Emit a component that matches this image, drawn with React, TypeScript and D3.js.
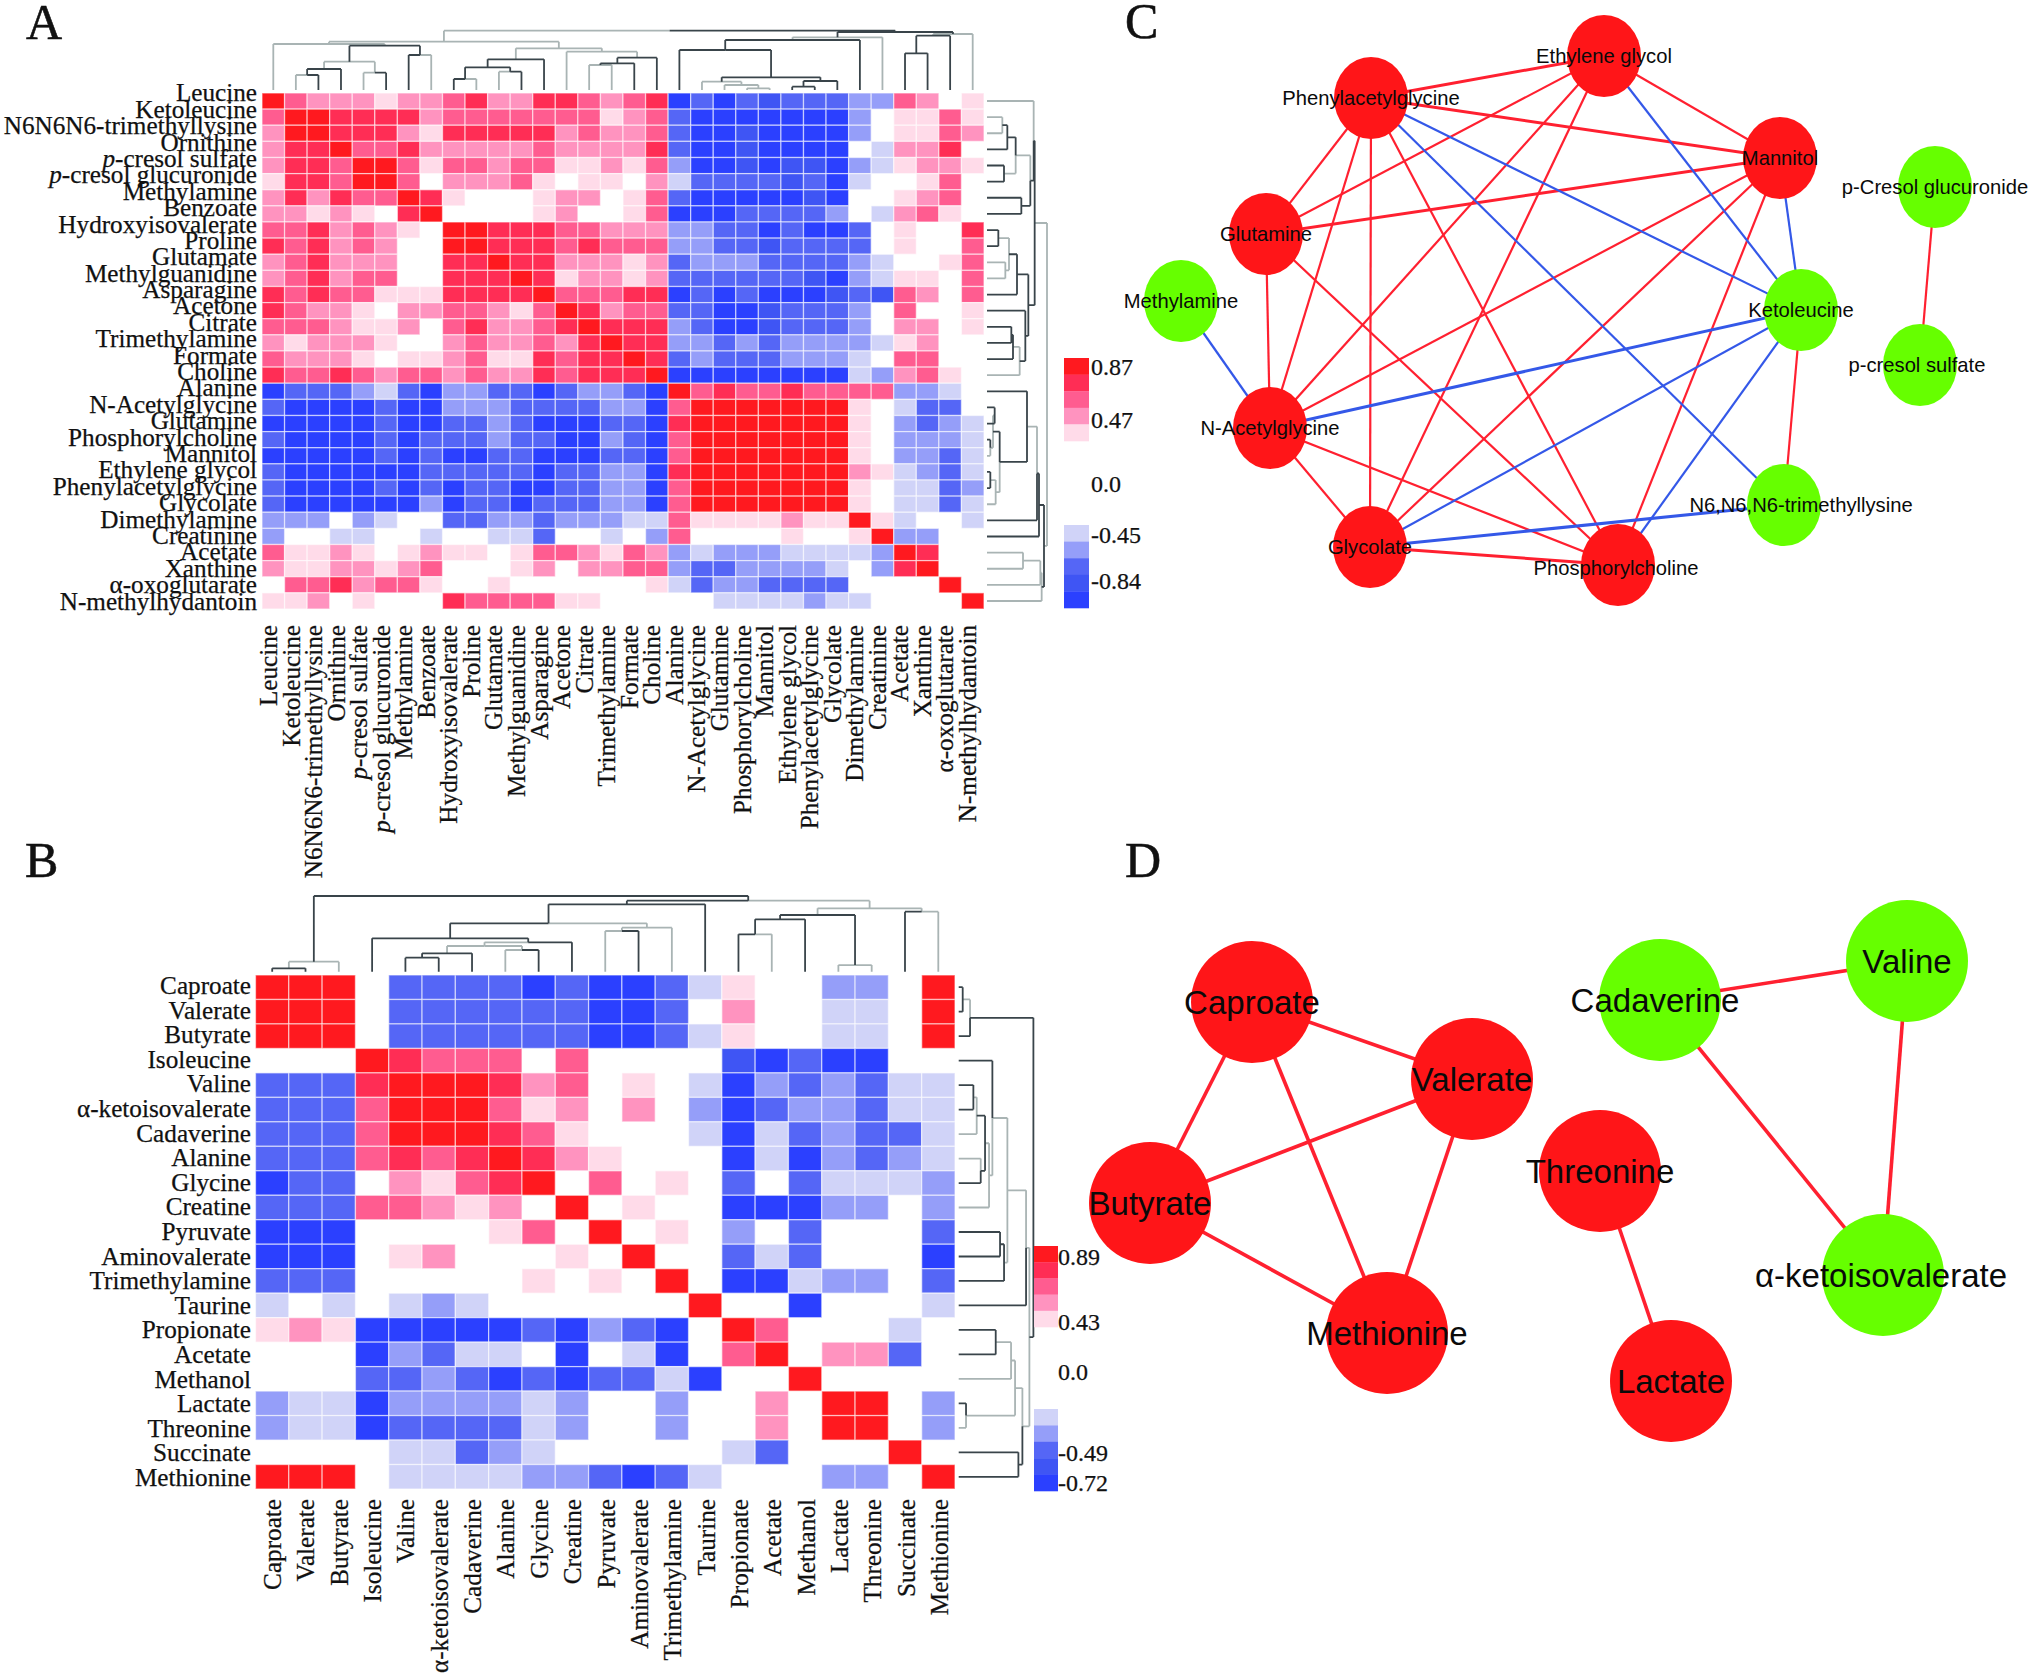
import React from "react";
import * as d3 from "d3";

const metabolitesA = ["Leucine","Ketoleucine","N6N6N6-trimethyllysine","Ornithine","p-cresol sulfate","p-cresol glucuronide","Methylamine","Benzoate","Hydroxyisovalerate","Proline","Glutamate","Methylguanidine","Asparagine","Acetone","Citrate","Trimethylamine","Formate","Choline","Alanine","N-Acetylglycine","Glutamine","Phosphorylcholine","Mannitol","Ethylene glycol","Phenylacetylglycine","Glycolate","Dimethylamine","Creatinine","Acetate","Xanthine","α-oxoglutarate","N-methylhydantoin"];
const metabolitesB = ["Caproate","Valerate","Butyrate","Isoleucine","Valine","α-ketoisovalerate","Cadaverine","Alanine","Glycine","Creatine","Pyruvate","Aminovalerate","Trimethylamine","Taurine","Propionate","Acetate","Methanol","Lactate","Threonine","Succinate","Methionine"];

// Correlation bins: -5 (strong negative) ... 0 (not significant) ... 5 (strong positive)
const binsA: number[][] = [
[5,3,2,2,2,1,2,2,3,4,2,2,4,4,3,2,3,4,-5,-3,-5,-3,-4,-3,-3,-3,-2,-2,3,2,0,1],
[3,5,5,4,4,4,4,2,3,3,3,3,3,3,3,1,2,3,-3,-5,-5,-5,-5,-5,-5,-5,-2,0,1,1,3,1],
[2,5,5,4,4,4,2,1,4,4,4,4,4,2,3,2,2,3,-3,-5,-5,-4,-5,-5,-5,-5,-2,0,1,1,3,2],
[2,4,4,5,3,3,4,2,2,2,2,2,3,2,2,2,2,4,-3,-5,-5,-4,-5,-5,-5,-5,0,-1,2,2,4,0],
[2,4,4,3,5,5,3,1,3,3,2,3,3,1,1,2,1,3,-2,-5,-5,-4,-5,-4,-4,-5,-2,-1,1,2,2,1],
[1,4,4,3,5,5,3,0,2,2,2,3,1,0,1,1,0,2,-1,-3,-3,-3,-3,-4,-3,-5,-1,0,0,1,3,0],
[2,4,2,4,3,3,5,4,1,0,0,0,1,2,2,0,1,3,-3,-5,-5,-5,-5,-5,-4,-5,0,0,1,2,3,0],
[2,2,1,2,1,0,4,5,0,0,0,0,1,2,0,0,1,3,-5,-5,-5,-3,-3,-3,-3,-2,0,-1,2,3,1,0],
[3,3,4,2,3,2,1,0,5,5,4,4,4,3,3,2,2,2,-2,-2,-3,-3,-5,-3,-5,-5,-3,0,1,0,0,4],
[4,3,4,2,3,2,0,0,5,5,4,4,4,3,4,3,3,3,-2,-2,-3,-3,-4,-3,-3,-3,-3,0,1,0,0,3],
[2,3,4,2,2,2,0,0,4,4,5,4,4,2,2,2,1,2,-3,-2,-2,-2,-3,-3,-3,-3,-2,-1,0,0,1,3],
[2,3,4,2,3,3,0,0,4,4,4,5,4,1,2,2,1,2,-3,-3,-3,-3,-3,-3,-4,-5,-2,-1,1,1,0,3],
[4,3,4,3,3,1,1,1,4,4,4,4,5,3,3,3,4,4,-5,-3,-5,-3,-5,-5,-5,-4,-3,-4,3,2,0,3],
[4,3,2,2,1,0,2,2,3,3,2,1,3,5,4,2,3,3,-3,-3,-5,-5,-4,-3,-3,-3,-2,0,3,0,0,1],
[3,3,3,2,1,1,2,0,3,4,2,2,3,4,5,4,4,4,-2,-3,-5,-5,-4,-3,-3,-3,-2,0,2,2,0,1],
[2,1,2,2,2,1,0,0,2,3,2,2,3,2,4,5,4,4,-2,-2,-3,-2,-3,-2,-2,-2,-2,-1,1,2,0,0],
[3,2,2,2,1,0,1,1,2,3,1,1,4,3,4,4,5,4,-3,-2,-3,-3,-3,-2,-2,-2,-1,0,3,3,0,0],
[4,3,3,4,3,2,3,3,2,3,2,2,4,3,4,4,4,5,-5,-5,-5,-5,-5,-5,-5,-5,-1,-2,2,3,1,0],
[-5,-3,-3,-3,-2,-1,-3,-5,-2,-2,-3,-3,-5,-3,-2,-2,-3,-5,5,3,4,3,3,4,3,3,3,3,-2,-2,-1,0],
[-3,-5,-5,-5,-5,-3,-5,-5,-2,-2,-2,-3,-3,-3,-3,-2,-2,-5,3,5,5,5,5,5,5,5,1,0,-1,-3,-3,0],
[-5,-5,-5,-5,-5,-3,-5,-5,-3,-3,-2,-3,-5,-5,-5,-3,-3,-5,4,5,5,5,5,5,5,5,1,0,-2,-3,-2,-1],
[-3,-5,-5,-5,-5,-3,-5,-3,-3,-3,-2,-3,-3,-5,-5,-2,-3,-5,3,5,5,5,5,5,5,5,1,0,-2,-2,-2,-1],
[-5,-5,-5,-5,-5,-3,-5,-3,-5,-5,-3,-3,-5,-5,-5,-3,-3,-5,3,5,5,5,5,5,5,5,1,0,-2,-2,-3,-1],
[-3,-5,-5,-5,-5,-5,-5,-3,-3,-3,-3,-3,-5,-3,-3,-2,-2,-5,4,5,5,5,5,5,5,5,2,1,-1,-2,-3,-1],
[-3,-5,-5,-5,-5,-3,-5,-3,-5,-3,-3,-5,-5,-3,-3,-2,-2,-5,3,5,5,5,5,5,5,5,1,0,-1,-1,-3,-2],
[-3,-5,-5,-5,-5,-5,-5,-2,-5,-3,-3,-5,-3,-3,-3,-2,-2,-5,3,5,5,5,5,5,5,5,1,0,-1,-1,-3,-1],
[-2,-2,-2,0,-2,-1,0,0,-3,-3,-2,-2,-3,-2,-2,-2,-1,-1,3,1,1,1,1,2,1,1,5,1,-1,0,0,-1],
[-2,0,0,-1,-1,0,0,-1,0,0,-1,-1,-3,0,0,-1,0,-2,3,0,0,0,0,1,0,0,1,5,-2,-2,0,0],
[3,1,1,2,1,0,1,2,1,1,0,1,3,3,2,1,3,2,-2,-1,-2,-2,-2,-1,-1,-1,-1,-2,5,4,0,0],
[2,1,1,2,2,1,2,3,0,0,0,1,2,0,2,2,3,3,-2,-3,-3,-2,-2,-2,-2,-1,0,-2,4,5,0,0],
[0,3,3,4,2,3,3,1,0,0,1,0,0,0,0,0,0,1,-1,-3,-2,-2,-3,-3,-3,-3,0,0,0,0,5,0],
[1,1,2,0,1,0,0,0,4,3,3,3,3,1,1,0,0,0,0,0,-1,-1,-1,-1,-2,-1,-1,0,0,0,0,5],
];

const binsB: number[][] = [
[5,5,5,0,-3,-3,-3,-3,-5,-3,-5,-5,-3,-1,1,0,0,-2,-2,0,5],
[5,5,5,0,-3,-3,-3,-3,-3,-3,-5,-5,-3,0,2,0,0,-1,-1,0,5],
[5,5,5,0,-3,-3,-3,-3,-3,-3,-5,-5,-3,-1,1,0,0,-1,-1,0,5],
[0,0,0,5,4,3,3,3,0,3,0,0,0,0,-4,-5,-3,-5,-5,0,0],
[-3,-3,-3,4,5,5,5,4,2,3,0,1,0,-1,-5,-2,-3,-2,-3,-1,-1],
[-3,-3,-3,3,5,5,5,3,1,2,0,2,0,-2,-5,-3,-2,-2,-3,-1,-1],
[-3,-3,-3,3,5,5,5,4,3,1,0,0,0,-1,-5,-1,-3,-2,-3,-3,-1],
[-3,-3,-3,3,4,3,4,5,4,2,1,0,0,0,-5,-1,-5,-2,-3,-2,-1],
[-5,-3,-3,0,2,1,3,4,5,0,3,0,1,0,-3,0,-3,-1,-1,-1,-2],
[-3,-3,-3,3,3,2,1,2,0,5,0,1,0,0,-5,-5,-5,-2,-2,0,-2],
[-5,-5,-5,0,0,0,0,1,3,0,5,0,1,0,-2,0,-3,0,0,0,-3],
[-5,-5,-5,0,1,2,0,0,0,1,0,5,0,0,-3,-1,-3,0,0,0,-5],
[-3,-3,-3,0,0,0,0,0,1,0,1,0,5,0,-5,-5,-1,-2,-2,0,-3],
[-1,0,-1,0,-1,-2,-1,0,0,0,0,0,0,5,0,0,-5,0,0,0,-1],
[1,2,1,-5,-5,-5,-5,-5,-3,-5,-2,-3,-5,0,5,3,0,0,0,-1,0],
[0,0,0,-5,-2,-3,-1,-1,0,-5,0,-1,-5,0,3,5,0,2,2,-3,0],
[0,0,0,-3,-3,-2,-3,-5,-3,-5,-3,-3,-1,-5,0,0,5,0,0,0,0],
[-2,-1,-1,-5,-2,-2,-2,-2,-1,-2,0,0,-2,0,0,2,0,5,5,0,-2],
[-2,-1,-1,-5,-3,-3,-3,-3,-1,-2,0,0,-2,0,0,2,0,5,5,0,-2],
[0,0,0,0,-1,-1,-3,-2,-1,0,0,0,0,0,-1,-3,0,0,0,5,0],
[5,5,5,0,-1,-1,-1,-1,-2,-2,-3,-5,-3,-1,0,0,0,-2,-2,0,5],
];

const binLevels = [5,4,3,2,1,0,-1,-2,-3,-4,-5];
const binColors = ["#ff191f","#ff2d55","#ff5c90","#ff93bf","#ffdbe9","#ffffff","#d0d3f8","#959ef9","#5566f6","#3f55f4","#2b40ff"];
const legendRed = [5,4,3,2,1];
const legendBlue = [-1,-2,-3,-4,-5];
const legendTicksA = ["0.87","0.47","0.0","-0.45","-0.84"];
const legendTicksB = ["0.89","0.43","0.0","-0.49","-0.72"];

// Dendrograms: [height, left, right, leftTone, rightTone]; a number child is a leaf index. Tone 0 dark, 1 grey.
type Tree = number | [number, Tree, Tree, number, number];
const treeATop: Tree = [178,
  [145,
    [138,0,[133,[85,[63,[45,1,2,1,0],3,0,0],[52,4,5,1,0],1,1],[105,6,7,0,1],0,0],1,1],
    [125,[92,[68,[33,8,9,0,1],[55,10,11,1,0],0,0],12,0,0],[115,13,[97,[80,[75,14,15,1,1],16,0,0],17,0,0],1,1],1,1],
    1,1],
  [174,
    [158,[150,[120,18,[38,[25,19,[15,20,[5,21,22,1,1],1,1],1,1],[27,[10,23,24,0,0],25,0,0],0,0],0,0],26,0,0],27,1,1],
    [168,[163,[110,28,29,0,0],30,0,0],31,1,1],
    0,0],
  1,0];
const treeARight: Tree = [180,
  [143,
    [140,0,[130,[86,[61,[46,1,2,1,1],3,0,0],[51,4,5,0,0],0,1],[103,6,7,0,0],1,0],1,0],
    [124,[90,[66,[34,8,9,0,0],[55,10,11,1,1],1,1],12,0,0],[115,13,[98,[78,[73,14,15,0,0],16,0,0],17,1,1],0,0],0,0],
    0,0],
  [171,
    [156,[150,[120,18,[38,[18,[23,19,20,0,0],[10,21,22,0,1],1,1],[26,[10,23,24,0,0],25,1,1],0,1],0,0],26,1,0],27,0,0],
    [164,[160,[108,28,29,1,1],30,1,1],31,1,1],
    0,0],
  1,1];
const treeBTop: Tree = [227,
  [30,[10,0,1,0,0],2,1,1],
  [213,
    [202,[145,[100,3,[88,[77,[55,[42,4,5,0,0],6,0,0],[65,7,8,1,0],1,1],9,1,0],0,0],[132,[122,10,11,1,0],12,1,1],0,1],13,0,0],
    [190,[170,[157,[112,14,15,0,1],16,0,0],[20,17,18,1,1],0,0],[180,19,20,0,1],1,1],
    0,1],
  0,0];
const treeBRight: Tree = [224,
  [34,[12,0,1,0,0],2,1,0],
  [212,
    [202,[146,[101,3,[91,[79,[54,[44,4,5,0,0],6,1,1],[66,7,8,1,0],0,0],9,1,1],0,1],[136,[124,10,11,0,0],12,0,0],1,1],13,1,0],
    [191,[169,[157,[111,14,15,0,0],16,1,1],[22,17,18,0,1],1,1],[179,19,20,0,0],1,0],
    1,1],
  0,0];

// Networks
const nodesC = ["Ethylene glycol","Phenylacetylglycine","Mannitol","Glutamine","Methylamine","Ketoleucine","p-Cresol glucuronide","p-cresol sulfate","N-Acetylglycine","N6,N6,N6-trimethyllysine","Glycolate","Phosphorylcholine"];
const nodeCX = [1604,1371,1780,1266,1181,1801,1935,1920,1270,1784,1370,1618];
const nodeCY = [56,98,158,234,301,310,187,365,428,505,547,565];
const labelCX = [1604,1371,1780,1266,1181,1801,1935,1917,1270,1801,1370,1616];
const labelCY = [56,98,158,234,301,310,187,365,428,505,547,568];
const greenC = ["Methylamine","Ketoleucine","p-Cresol glucuronide","p-cresol sulfate","N6,N6,N6-trimethyllysine"];
const redEdgesC = [[1,0],[1,2],[1,3],[1,8],[1,10],[1,11],[0,2],[0,3],[0,8],[0,10],[2,3],[2,8],[2,10],[2,11],[3,8],[3,11],[8,10],[8,11],[5,9],[10,11],[6,7]];
const blueEdgesC = [[1,5],[1,9],[0,5],[2,5],[4,8],[8,5],[5,10],[5,11],[10,9]];
const thickEdgesC = ["8-5","10-9","10-11","1-2","2-3","1-0"];

const nodesD = ["Caproate","Valerate","Butyrate","Methionine","Threonine","Lactate","Cadaverine","Valine","α-ketoisovalerate"];
const nodeDX = [1252,1472,1150,1387,1600,1671,1660,1907,1883];
const nodeDY = [1002,1079,1203,1333,1171,1381,1000,961,1275];
const labelDX = [1252,1472,1150,1387,1600,1671,1655,1907,1881];
const labelDY = [1002,1079,1203,1333,1171,1381,1000,961,1275];
const greenD = ["Cadaverine","Valine","α-ketoisovalerate"];
const edgesD = [[0,1],[0,2],[0,3],[1,2],[1,3],[2,3],[4,5],[6,7],[6,8],[7,8]];

const panels = [["A",26,39],["B",25,877],["C",1125,38],["D",1125,877]] as const;

const SERIF = "'Liberation Serif','Times New Roman',serif";
const SANS = "'Liberation Sans',Arial,sans-serif";
const RED = "#ff1518";
const GREEN = "#66ff00";
const EDGE_RED = "#ff2030";
const EDGE_BLUE = "#3458e8";
const color = d3.scaleOrdinal<number, string>().domain(binLevels).range(binColors);

function Name({ text }: { text: string }) {
  if (text.startsWith("p-cresol")) {
    return <><tspan fontStyle="italic">p</tspan>{text.slice(1)}</>;
  }
  return <>{text}</>;
}

function Dendro({ tree, leaf, height, vertical }: {
  tree: Tree;
  leaf: (i: number) => number;
  height: (h: number) => number;
  vertical: boolean;
}) {
  const dark = d3.path();
  const grey = d3.path();
  const line = (p: any, a0: number, h0: number, a1: number, h1: number) => {
    if (vertical) { p.moveTo(a0, h0); p.lineTo(a1, h1); }
    else { p.moveTo(h0, a0); p.lineTo(h1, a1); }
  };
  const walk = (t: Tree): [number, number] => {
    if (typeof t === "number") return [leaf(t), height(0)];
    const [h, l, r, tl, tr] = t;
    const [la, lh] = walk(l);
    const [ra, rh] = walk(r);
    const hp = height(h);
    const mid = (la + ra) / 2;
    const pl = tl ? grey : dark;
    const pr = tr ? grey : dark;
    line(pl, la, lh, la, hp);
    line(pl, la, hp, mid, hp);
    line(pr, ra, rh, ra, hp);
    line(pr, mid, hp, ra, hp);
    return [mid, hp];
  };
  walk(tree);
  return (
    <g fill="none" strokeWidth={1.8}>
      <path d={grey.toString()} stroke="#a9b4b4" />
      <path d={dark.toString()} stroke="#39444a" />
    </g>
  );
}

function Heat({ bins, left, right, top, bottom }: { bins: number[][]; left: number; right: number; top: number; bottom: number }) {
  const x = d3.scaleBand<number>().domain(d3.range(bins[0].length)).range([left, right]);
  const y = d3.scaleBand<number>().domain(d3.range(bins.length)).range([top, bottom]);
  return (
    <g>
      {bins.map((row, r) => row.map((v, c) => v === 0 ? null : (
        <rect key={`${r}-${c}`} x={x(c)} y={y(r)} width={x.bandwidth()} height={y.bandwidth()}
          fill={color(v)} stroke="#ffffff" strokeOpacity={0.55} strokeWidth={1.3} />
      )))}
    </g>
  );
}

function Legend({ x0, x1, redTop, redBottom, blueTop, blueBottom, ticks, tickY, tickX }: any) {
  const redY = d3.scaleBand<number>().domain(legendRed).range([redTop, redBottom]);
  const blueY = d3.scaleBand<number>().domain(legendBlue).range([blueTop, blueBottom]);
  return (
    <g>
      {legendRed.map(v => <rect key={v} x={x0} width={x1 - x0} y={redY(v)} height={redY.bandwidth() + 0.3} fill={color(v)} />)}
      {legendBlue.map(v => <rect key={v} x={x0} width={x1 - x0} y={blueY(v)} height={blueY.bandwidth() + 0.3} fill={color(v)} />)}
      {ticks.map((t: string, i: number) => (
        <text key={t} x={tickX} y={tickY[i]} fontFamily={SERIF} fontSize={24} fill="#111" stroke="#111" strokeWidth={0.25}>{t}</text>
      ))}
    </g>
  );
}

function Labels({ names, size, rowEnd, colEnd, rowY, colX }: any) {
  return (
    <g fontFamily={SERIF} fontSize={size} fill="#111" stroke="#111" strokeWidth={0.25}>
      {names.map((n: string, i: number) => (
        <text key={"r" + i} x={rowEnd} y={rowY(i)} textAnchor="end"><Name text={n} /></text>
      ))}
      {names.map((n: string, i: number) => (
        <text key={"c" + i} transform={`translate(${colX(i)},${colEnd}) rotate(-90)`} textAnchor="end"><Name text={n} /></text>
      ))}
    </g>
  );
}

function Network({ names, xs, ys, lx, ly, green, edges, rx, ry, fontSize }: any) {
  return (
    <g>
      {edges.map((e: any, i: number) => (
        <line key={i} x1={xs[e.a]} y1={ys[e.a]} x2={xs[e.b]} y2={ys[e.b]} stroke={e.color} strokeWidth={e.width} />
      ))}
      {names.map((n: string, i: number) => (
        <ellipse key={n} cx={xs[i]} cy={ys[i]} rx={rx} ry={ry} fill={green.includes(n) ? GREEN : RED} />
      ))}
      {names.map((n: string, i: number) => (
        <text key={n} x={lx[i]} y={ly[i]} textAnchor="middle" dominantBaseline="central"
          fontFamily={SANS} fontSize={fontSize} fill="#0a0a0a">{n}</text>
      ))}
    </g>
  );
}

export default function App() {
  const aLeaf = d3.scaleLinear().domain([0, 31]).range([273.3, 972.7]);
  const aRowLeaf = d3.scaleLinear().domain([0, 31]).range([101, 601]);
  const bLeaf = d3.scaleLinear().domain([0, 20]).range([272.2, 938.3]);
  const bRowLeaf = d3.scaleLinear().domain([0, 20]).range([987.2, 1476.8]);

  const aTopH = d3.scaleLinear().domain([0, 180]).range([90, 30]);
  const aRightH = d3.scaleLinear().domain([0, 180]).range([987, 1047]);
  const bTopH = d3.scaleLinear().domain([0, 227]).range([971.7, 896]);
  const bRightH = d3.scaleLinear().domain([0, 224]).range([958.7, 1033.4]);

  const aRowLabel = d3.scaleLinear().domain([0, 31]).range([101.4, 609.5]);
  const aColLabel = d3.scaleLinear().domain([0, 31]).range([277, 976]);
  const bRowLabel = d3.scaleLinear().domain([0, 20]).range([994, 1486]);
  const bColLabel = d3.scaleLinear().domain([0, 20]).range([281, 948]);

  const edgesC = [
    ...redEdgesC.map(([a, b]) => ({ a, b, color: EDGE_RED, width: thickEdgesC.includes(`${a}-${b}`) ? 3 : 2.2 })),
    ...blueEdgesC.map(([a, b]) => ({ a, b, color: EDGE_BLUE, width: thickEdgesC.includes(`${a}-${b}`) ? 3 : 2.2 })),
  ];
  const edgesDStyled = edgesD.map(([a, b]) => ({ a, b, color: EDGE_RED, width: 3.6 }));

  return (
    <svg width={2032} height={1676} viewBox="0 0 2032 1676"
      style={{ position: "absolute", left: 0, top: 0, background: "#fff", display: "block" }}>
      <rect width={2032} height={1676} fill="#fff" />
      {panels.map(([t, x, y]) => (
        <text key={t} x={x} y={y} fontFamily={SERIF} fontSize={50} fill="#111" stroke="#111" strokeWidth={0.6}>{t}</text>
      ))}

      <Dendro tree={treeATop} leaf={aLeaf} height={aTopH} vertical />
      <Dendro tree={treeARight} leaf={aRowLeaf} height={aRightH} vertical={false} />
      <Heat bins={binsA} left={262} right={984} top={93} bottom={609} />
      <Labels names={metabolitesA} size={25.2} rowEnd={257} colEnd={625} rowY={aRowLabel} colX={aColLabel} />
      <Legend x0={1064} x1={1089} redTop={358} redBottom={441} blueTop={525} blueBottom={608}
        ticks={legendTicksA} tickX={1091} tickY={[375, 428, 492, 543, 589]} />

      <Dendro tree={treeBTop} leaf={bLeaf} height={bTopH} vertical />
      <Dendro tree={treeBRight} leaf={bRowLeaf} height={bRightH} vertical={false} />
      <Heat bins={binsB} left={255.5} right={955} top={975} bottom={1489} />
      <Labels names={metabolitesB} size={25.2} rowEnd={251} colEnd={1499} rowY={bRowLabel} colX={bColLabel} />
      <Legend x0={1034} x1={1058} redTop={1246} redBottom={1327} blueTop={1409} blueBottom={1491}
        ticks={legendTicksB} tickX={1058} tickY={[1265, 1330, 1380, 1461, 1491]} />

      <Network names={nodesC} xs={nodeCX} ys={nodeCY} lx={labelCX} ly={labelCY} green={greenC}
        edges={edgesC} rx={37} ry={41} fontSize={20.2} />
      <Network names={nodesD} xs={nodeDX} ys={nodeDY} lx={labelDX} ly={labelDY} green={greenD}
        edges={edgesDStyled} rx={61} ry={61} fontSize={33} />
    </svg>
  );
}
